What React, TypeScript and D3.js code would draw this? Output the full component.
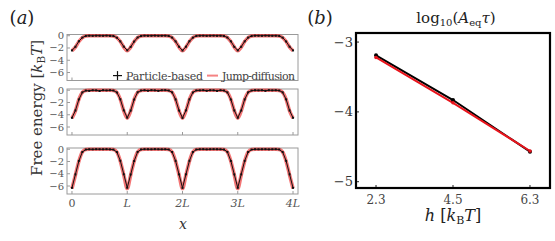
import React from 'react'
import * as d3 from 'd3'

// panel (a): free energy profiles, x in units of L, sampled every L/16
const xGrid = d3.range(65).map(i => i / 16)

const particleShallow = [
  -2.4, -1.8, -0.9, -0.3, -0.04, 0.0, -0.02, 0.01, 0.0, -0.01, 0.02, -0.02, -0.05, -0.32, -0.92, -1.78,
  -2.38, -1.82, -0.95, -0.28, -0.05, 0.01, -0.01, 0.0, 0.02, -0.01, 0.0, 0.01, -0.04, -0.3, -0.93, -1.8,
  -2.41, -1.79, -0.9, -0.31, -0.04, 0.0, 0.01, -0.02, 0.0, 0.01, -0.01, 0.0, -0.05, -0.29, -0.91, -1.81,
  -2.39, -1.8, -0.92, -0.3, -0.05, 0.01, 0.0, -0.01, 0.02, 0.0, -0.01, 0.0, -0.04, -0.31, -0.94, -1.79,
  -2.4,
]
const jumpShallow = [
  -2.45, -1.85, -0.95, -0.3, -0.04, 0, 0, 0, 0, 0, 0, 0, -0.04, -0.3, -0.95, -1.85,
  -2.45, -1.85, -0.95, -0.3, -0.04, 0, 0, 0, 0, 0, 0, 0, -0.04, -0.3, -0.95, -1.85,
  -2.45, -1.85, -0.95, -0.3, -0.04, 0, 0, 0, 0, 0, 0, 0, -0.04, -0.3, -0.95, -1.85,
  -2.45, -1.85, -0.95, -0.3, -0.04, 0, 0, 0, 0, 0, 0, 0, -0.04, -0.3, -0.95, -1.85,
  -2.45,
]
const particleMiddle = [
  -4.5, -3.3, -1.5, -0.35, -0.06, -0.1, 0.0, -0.02, -0.12, 0.01, -0.03, 0.0, -0.05, -0.36, -1.48, -3.28,
  -4.48, -3.32, -1.52, -0.33, -0.05, 0.0, -0.08, 0.01, -0.02, -0.1, 0.0, 0.01, -0.06, -0.34, -1.5, -3.31,
  -4.52, -3.29, -1.49, -0.36, -0.04, -0.02, 0.01, -0.09, 0.0, -0.01, -0.11, 0.0, -0.05, -0.35, -1.51, -3.3,
  -4.49, -3.31, -1.5, -0.34, -0.06, 0.0, -0.02, 0.0, -0.1, 0.01, -0.02, 0.0, -0.05, -0.35, -1.49, -3.3,
  -4.5,
]
const jumpMiddle = [
  -4.55, -3.35, -1.5, -0.35, -0.04, 0, 0, 0, 0, 0, 0, 0, -0.04, -0.35, -1.5, -3.35,
  -4.55, -3.35, -1.5, -0.35, -0.04, 0, 0, 0, 0, 0, 0, 0, -0.04, -0.35, -1.5, -3.35,
  -4.55, -3.35, -1.5, -0.35, -0.04, 0, 0, 0, 0, 0, 0, 0, -0.04, -0.35, -1.5, -3.35,
  -4.55, -3.35, -1.5, -0.35, -0.04, 0, 0, 0, 0, 0, 0, 0, -0.04, -0.35, -1.5, -3.35,
  -4.55,
]
const particleDeep = [
  -6.3, -4.1, -1.9, -0.45, -0.05, 0.0, -0.02, 0.01, 0.0, -0.01, 0.01, -0.02, -0.06, -0.46, -1.88, -4.08,
  -6.28, -4.12, -1.92, -0.44, -0.04, 0.01, 0.0, -0.01, 0.02, 0.0, -0.01, 0.0, -0.05, -0.45, -1.9, -4.1,
  -6.31, -4.09, -1.89, -0.46, -0.05, 0.0, 0.01, -0.02, 0.0, 0.01, 0.0, -0.01, -0.05, -0.44, -1.91, -4.11,
  -6.29, -4.1, -1.9, -0.45, -0.06, 0.0, -0.01, 0.0, 0.01, -0.02, 0.0, 0.01, -0.04, -0.46, -1.89, -4.09,
  -6.3,
]
const jumpDeep = [
  -6.4, -4.2, -1.95, -0.45, -0.04, 0, 0, 0, 0, 0, 0, 0, -0.04, -0.45, -1.95, -4.2,
  -6.4, -4.2, -1.95, -0.45, -0.04, 0, 0, 0, 0, 0, 0, 0, -0.04, -0.45, -1.95, -4.2,
  -6.4, -4.2, -1.95, -0.45, -0.04, 0, 0, 0, 0, 0, 0, 0, -0.04, -0.45, -1.95, -4.2,
  -6.4, -4.2, -1.95, -0.45, -0.04, 0, 0, 0, 0, 0, 0, 0, -0.04, -0.45, -1.95, -4.2,
  -6.4,
]
const energyTicks = [0, -2, -4, -6]
const xTickValues = [0, 1, 2, 3, 4]
const xTickLabels = ['0', 'L', '2L', '3L', '4L']

// panel (b): log10(A_eq tau) against barrier height h
const hLabels = ['2.3', '4.5', '6.3']
const logRateParticle = [-3.19, -3.83, -4.57]
const logRateJump = [-3.22, -3.87, -4.56]
const logRateTicks = [-3, -4, -5]

const serif = { fontFamily: "'DejaVu Serif', serif" }
const grey = '#555'

const xA = d3.scaleLinear().domain([-0.09, 4.09]).range([67, 298])
const subTops = [34.5, 89, 148]
const subH = 46

function Subpanel({ top, particle, jump, legend }: { top: number; particle: number[]; jump: number[]; legend?: boolean }) {
  const y = d3.scaleLinear().domain([-7.3, 0.2]).range([top + subH, top])
  const lineP = d3.line<number>().x((_, i) => xA(xGrid[i])).y(d => y(d))
  const lineJ = d3.line<number>().x((_, i) => xA(xGrid[i])).y(d => y(d)).curve(d3.curveMonotoneX)
  return (
    <g>
      <rect x={67} y={top} width={231} height={subH} fill="none" stroke="#9a9a9a" strokeWidth={1} />
      {energyTicks.map(t => (
        <g key={t}>
          <line x1={67} x2={70} y1={y(t)} y2={y(t)} stroke="#9a9a9a" />
          <text x={64} y={y(t) + 3.5} fontSize={10} textAnchor="end" fill={grey} style={serif}>
            {t === 0 ? '0' : '\u2212' + Math.abs(t)}
          </text>
        </g>
      ))}
      {xTickValues.map(t => (
        <line key={t} x1={xA(t)} x2={xA(t)} y1={top + subH} y2={top + subH - 3} stroke="#9a9a9a" />
      ))}
      <path d={lineJ(jump) ?? ''} fill="none" stroke="rgba(236,30,30,0.62)" strokeWidth={3.6} strokeLinejoin="round" />
      <path d={lineP(particle) ?? ''} fill="none" stroke="#111" strokeWidth={1} />
      {particle.map((v, i) => (
        <rect key={i} x={xA(xGrid[i]) - 1} y={y(v) - 1} width={2} height={2} fill="#111" />
      ))}
      {legend && (
        <g style={serif} fontSize={11} fill="#444">
          <line x1={113} x2={122} y1={y(-6.5)} y2={y(-6.5)} stroke="#111" strokeWidth={1.2} />
          <line x1={117.5} x2={117.5} y1={y(-6.5) - 4.5} y2={y(-6.5) + 4.5} stroke="#111" strokeWidth={1.2} />
          <text x={126} y={y(-6.5) + 4} textLength={77}>Particle-based</text>
          <line x1={207} x2={218} y1={y(-6.5)} y2={y(-6.5)} stroke="rgba(236,30,30,0.55)" strokeWidth={2} />
          <text x={222} y={y(-6.5) + 4} textLength={73}>Jump-diffusion</text>
        </g>
      )}
    </g>
  )
}

function PanelB() {
  const x = d3.scalePoint<string>().domain(hLabels).range([356, 550]).padding(0.26)
  const y = d3.scaleLinear().domain([-5.09, -2.87]).range([188, 33])
  const line = d3.line<number>().x((_, i) => x(hLabels[i]) ?? 0).y(d => y(d))
  return (
    <g style={serif}>
      {logRateTicks.map(t => (
        <g key={t}>
          <line x1={356} x2={359} y1={y(t)} y2={y(t)} stroke="#222" />
          <text x={353} y={y(t) + 4.5} fontSize={13} textAnchor="end" fill="#333">{'\u2212' + Math.abs(t)}</text>
        </g>
      ))}
      {hLabels.map(h => (
        <g key={h}>
          <line x1={x(h)} x2={x(h)} y1={188} y2={185} stroke="#222" />
          <text x={x(h)} y={204} fontSize={12} textAnchor="middle" fill="#444">{h}</text>
        </g>
      ))}
      <path d={line(logRateParticle) ?? ''} fill="none" stroke="#000" strokeWidth={2} />
      <path d={line(logRateJump) ?? ''} fill="none" stroke="#e8141c" strokeWidth={2} />
      {logRateParticle.map((v, i) => (
        <circle key={'p' + i} cx={x(hLabels[i])} cy={y(v)} r={2} fill="#000" />
      ))}
      {logRateJump.map((v, i) => (
        <circle key={'j' + i} cx={x(hLabels[i])} cy={y(v)} r={1.8} fill="#e8141c" />
      ))}
      <rect x={356} y={33} width={194} height={155} fill="none" stroke="#000" strokeWidth={2.2} />
      <text x={456} y={23} fontSize={15} textAnchor="middle" fill="#222">
        log<tspan fontSize={10} dy={3}>10</tspan>
        <tspan dy={-3}>(</tspan>
        <tspan fontStyle="italic">A</tspan>
        <tspan fontSize={10} dy={3}>eq</tspan>
        <tspan dy={-3} fontStyle="italic">τ</tspan>)
      </text>
      <text x={320} y={24} fontSize={18} textAnchor="middle" fill="#222">
        (<tspan fontStyle="italic">b</tspan>)
      </text>
      <text x={453} y={221} fontSize={16} textAnchor="middle" fill="#222">
        <tspan fontStyle="italic">h</tspan> [<tspan fontStyle="italic">k</tspan>
        <tspan fontSize={11} dy={3}>B</tspan>
        <tspan dy={-3} fontStyle="italic">T</tspan>]
      </text>
    </g>
  )
}

export default function App() {
  return (
    <svg width={555} height={241} style={{ position: 'absolute', left: 0, top: 0, background: '#fff' }}>
      <text x={22} y={24} fontSize={18} textAnchor="middle" fill="#222" style={serif}>
        (<tspan fontStyle="italic">a</tspan>)
      </text>
      <Subpanel top={subTops[0]} particle={particleShallow} jump={jumpShallow} legend />
      <Subpanel top={subTops[1]} particle={particleMiddle} jump={jumpMiddle} />
      <Subpanel top={subTops[2]} particle={particleDeep} jump={jumpDeep} />
      {xTickValues.map((t, i) => (
        <text key={t} x={xA(t)} y={207} fontSize={11} textAnchor="middle" fill={grey} style={serif}
          fontStyle={i === 0 ? 'normal' : 'italic'}>
          {xTickLabels[i]}
        </text>
      ))}
      <text x={183} y={229} fontSize={14} textAnchor="middle" fontStyle="italic" fill="#333" style={serif}>x</text>
      <text transform="translate(42,108) rotate(-90)" fontSize={15} textAnchor="middle" fill="#333" style={serif}>
        Free energy [<tspan fontStyle="italic">k</tspan>
        <tspan fontSize={10.5} dy={3}>B</tspan>
        <tspan dy={-3} fontStyle="italic">T</tspan>]
      </text>
      <PanelB />
    </svg>
  )
}
